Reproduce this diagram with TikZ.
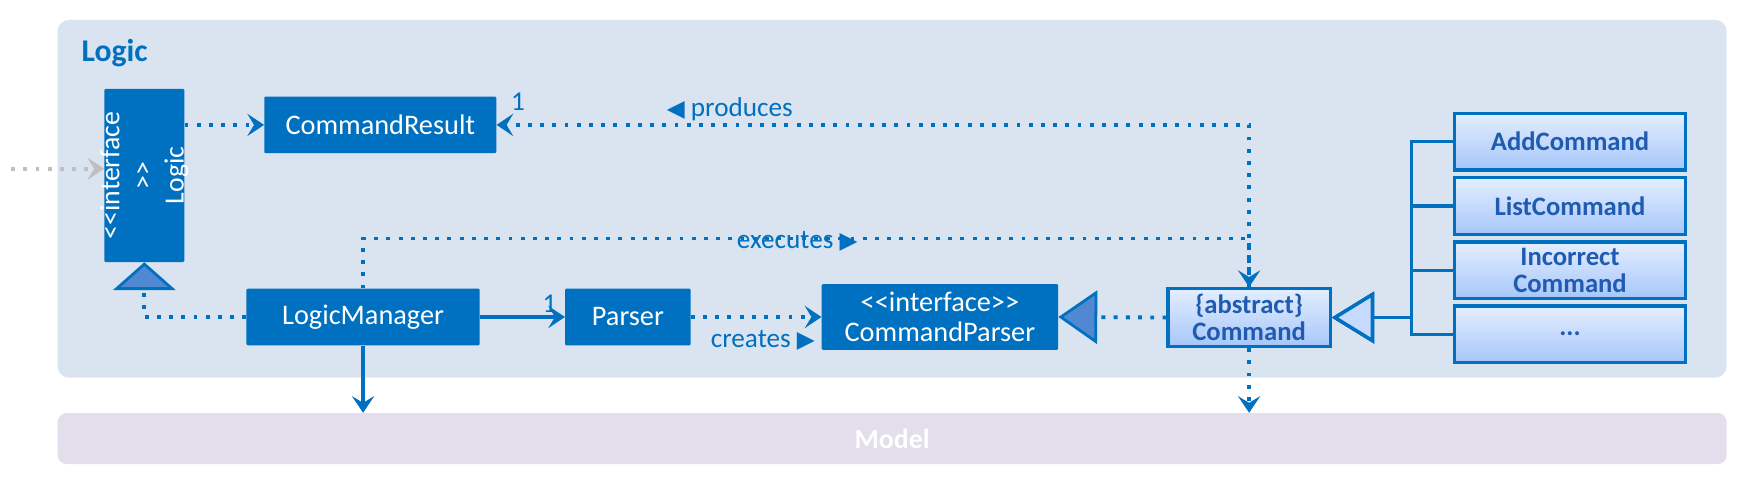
\documentclass[tikz,border=0pt]{standalone}
\usepackage{fontspec}
\setmainfont{Carlito}
\newfontfamily\symfont{DejaVu Sans}
\usetikzlibrary{arrows.meta,positioning}

\definecolor{umlblue}{HTML}{0070C0}
\definecolor{pkgfill}{HTML}{DAE3F0}
\definecolor{modelfill}{HTML}{E3DEEB}
\definecolor{trifill}{HTML}{5088D2}
\definecolor{subtop}{HTML}{E4EEFF}
\definecolor{subbot}{HTML}{A6C6FA}
\definecolor{subtext}{HTML}{1F5BB0}

\newcommand{\stin}{<\kern0pt<}
\newcommand{\stout}{>\kern0pt>}
\newcommand{\tril}{{\symfont\fontsize{21}{21}\selectfont ◀}}
\newcommand{\trir}{{\symfont\fontsize{21}{21}\selectfont ▶}}

\tikzset{
  cls/.style={fill=umlblue, text=white, inner sep=0pt, rounded corners=1pt,
    font=\fontsize{25.5}{27}\selectfont, minimum height=51pt, align=center},
  sub/.style={draw=umlblue, line width=3pt, top color=subtop, bottom color=subbot,
    text=subtext, inner sep=0pt, font=\bfseries\fontsize{24}{25}\selectfont,
    minimum width=208pt, minimum height=51pt, align=center},
  lbl/.style={text=umlblue, inner sep=1pt, font=\fontsize{24.5}{26}\selectfont},
  dep/.style={umlblue, line width=3.5pt, dash pattern=on 3.5pt off 7.5pt,
    -{Stealth[length=15pt,width=20pt,inset=6pt]}},
  assoc/.style={umlblue, line width=3pt, -{Stealth[length=15pt,width=20pt,inset=6pt]}},
  real/.style={umlblue, line width=3.5pt, dash pattern=on 3.5pt off 7.5pt,
    -{Triangle[length=#1,fill=trifill,line width=2.5pt]}},
  gen/.style={umlblue, line width=3pt,
    -{Triangle[length=38pt,width=46pt,fill=subtop!50!subbot,line width=3pt]}}
}

\begin{document}
\begin{tikzpicture}[x=1pt,y=-1pt]
  \useasboundingbox (0,0) rectangle (1568,433);

  % packages
  \fill[pkgfill, rounded corners=10pt] (52,18) rectangle (1555,340);
  \node[anchor=west, text=umlblue, font=\bfseries\fontsize{28.5}{30}\selectfont] (logicpkg) at (70,48) {Logic};
  \node[fill=modelfill, rounded corners=8pt, minimum width=1503pt, minimum height=46pt,
    text=white, font=\bfseries\fontsize{25}{26}\selectfont] (model) at (803.5,395) {Model};

  % classes
  \node[cls, minimum width=72pt, minimum height=156pt] (logic) at (130,158) {};
  \node[rotate=90, text=white, align=center, inner sep=0pt,
    font=\fontsize{25}{29}\selectfont] (logictext) at (logic.center) {\stin interface\\\stout\\Logic};
  \node[cls, minimum width=209pt] (result) at (342.5,112.5) {CommandResult};
  \node[cls, minimum width=210pt] (manager) at (327,285.5) {LogicManager};
  \node[cls, minimum width=113pt] (parser) at (565.5,285.5) {Parser};
  \node[cls, minimum width=213pt, minimum height=59pt] (cmdparser) at (846.5,285.5) {\stin interface\stout\\CommandParser};
  \node[sub, minimum width=146pt, minimum height=52pt, font=\bfseries\fontsize{24}{24}\selectfont] (command) at (1125,286) {\{abstract\}\\Command};

  \node[sub] (add) at (1414,127.5) {AddCommand};
  \node[sub] (list) at (1414,185.5) {ListCommand};
  \node[sub, font=\bfseries\fontsize{24}{24}\selectfont] (incorrect) at (1414,243.5) {Incorrect\\Command};
  \node[sub] (etc) at (1414,301) {...};

  % connectors
  \coordinate (outside) at (10,152);
  \draw[dep, gray!50] (outside) -- (outside -| logic.west);
  \draw[dep] (logic.east |- result) -- (result.west);
  \draw[dep] (command.north) |- (result.east)
    node[pos=0.845, above=1pt, lbl] {\tril\ produces};
  \node[lbl, above right=12pt and 12pt] (one1) at (result.east) {1};
  \draw[dep] (manager.north) -- ++(0,-45) -| (command.north)
    node[pos=0.245, lbl, yshift=-3pt] {executes \trir};
  \draw[assoc] (manager) -- (parser)
    node[pos=0.82, above=2pt, lbl] {1};
  \draw[dep] (parser) -- (cmdparser)
    node[midway, below=9pt, xshift=6pt, lbl] {creates \trir};
  \draw[real={25pt,width=56pt}] (manager.west) -| (logic.south);
  \draw[real={35pt,width=48pt}] (command.west) -- (cmdparser.east);
  \foreach \s in {add,list,incorrect,etc}
    \draw[gen] (\s.west) -- ++(-37,0) |- (command.east);

  \draw[assoc] (manager.south) -- (manager.south |- model.north);
  \draw[dep] (command.south) -- (command.south |- model.north);
\end{tikzpicture}
\end{document}
